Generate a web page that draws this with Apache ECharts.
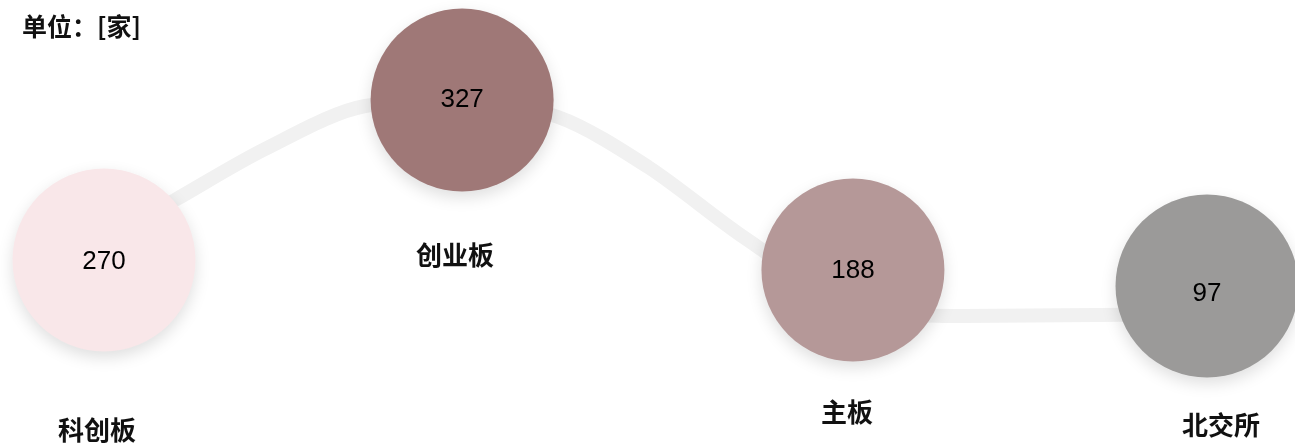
<!DOCTYPE html>
<html>
<head>
<meta charset="utf-8">
<script src="https://cdn.jsdelivr.net/npm/echarts@6/dist/echarts.min.js"></script>
<style>
  html, body { margin: 0; padding: 0; background: #fff; }
  #chart { width: 1295px; height: 444px; }
</style>
</head>
<body>
<div id="chart"></div>
<script>
// 板块及家数
const categories = ['科创板', '创业板', '主板', '北交所']
const counts = [270, 327, 188, 97]
// 圆点横向位置、高度（自定义刻度，x: 0-3，y: 0-100）
const xPos = [0, 0.974, 2.037, 3]
const bubbleLevel = [36, 100, 32, 25.6]
// 背景曲线沿途读取的点
const lineX = [0, 0.193, 0.438, 0.71, 0.974, 1.235, 1.48, 1.743, 2.037, 2.331, 2.706, 3]
const lineY = [44, 60, 80.4, 97.6, 99.6, 93.2, 73.2, 44.8, 18, 13.6, 14, 14.4]

const bubbleColors = ['#f9e7e9', '#9f7877', '#b59898', '#9b9a99']
// 标签偏移（相对圆心）
const valueOffsets = [[0, 2], [0, 0], [0, 1], [0, 8]]
const nameOffsets = [[-7, 170], [-7, 155], [-6, 142], [14, 139]]

const chart = echarts.init(document.getElementById('chart'))

const option = {
  animation: false,
  title: {
    text: '单位：[家]',
    left: 17,
    top: 9,
    textStyle: {
      fontFamily: 'Noto Sans CJK SC',
      fontSize: 25,
      fontWeight: 'bold',
      color: '#111'
    }
  },
  grid: { left: 104, right: 88, top: 100, bottom: 94 },
  xAxis: { type: 'value', min: 0, max: 3, show: false },
  yAxis: { type: 'value', min: 0, max: 100, show: false },
  series: [
    {
      // 背景连线
      type: 'line',
      smooth: 0.3,
      symbol: 'none',
      silent: true,
      lineStyle: { color: '#f1f1f1', width: 14 },
      data: lineX.map((x, i) => [x, lineY[i]]),
      z: 1
    },
    {
      // 圆点
      type: 'scatter',
      symbolSize: 183,
      clip: false,
      data: xPos.map((x, i) => ({
        value: [x, bubbleLevel[i]],
        itemStyle: {
          color: bubbleColors[i],
          opacity: 1,
          shadowBlur: 16,
          shadowColor: 'rgba(0, 0, 0, 0.13)',
          shadowOffsetY: 6
        },
        label: { offset: valueOffsets[i] }
      })),
      label: {
        show: true,
        position: 'inside',
        formatter: (p) => counts[p.dataIndex],
        fontFamily: 'Liberation Sans',
        fontSize: 26,
        color: '#000'
      },
      z: 3
    },
    {
      // 名称
      type: 'scatter',
      symbolSize: 0,
      clip: false,
      silent: true,
      itemStyle: { opacity: 1 },
      data: xPos.map((x, i) => ({
        value: [x, bubbleLevel[i]],
        label: { offset: nameOffsets[i] }
      })),
      label: {
        show: true,
        position: 'inside',
        formatter: (p) => categories[p.dataIndex],
        fontFamily: 'Noto Sans CJK SC',
        fontSize: 26,
        fontWeight: 'bold',
        color: '#111'
      },
      z: 4
    }
  ]
}

chart.setOption(option)
</script>
</body>
</html>
